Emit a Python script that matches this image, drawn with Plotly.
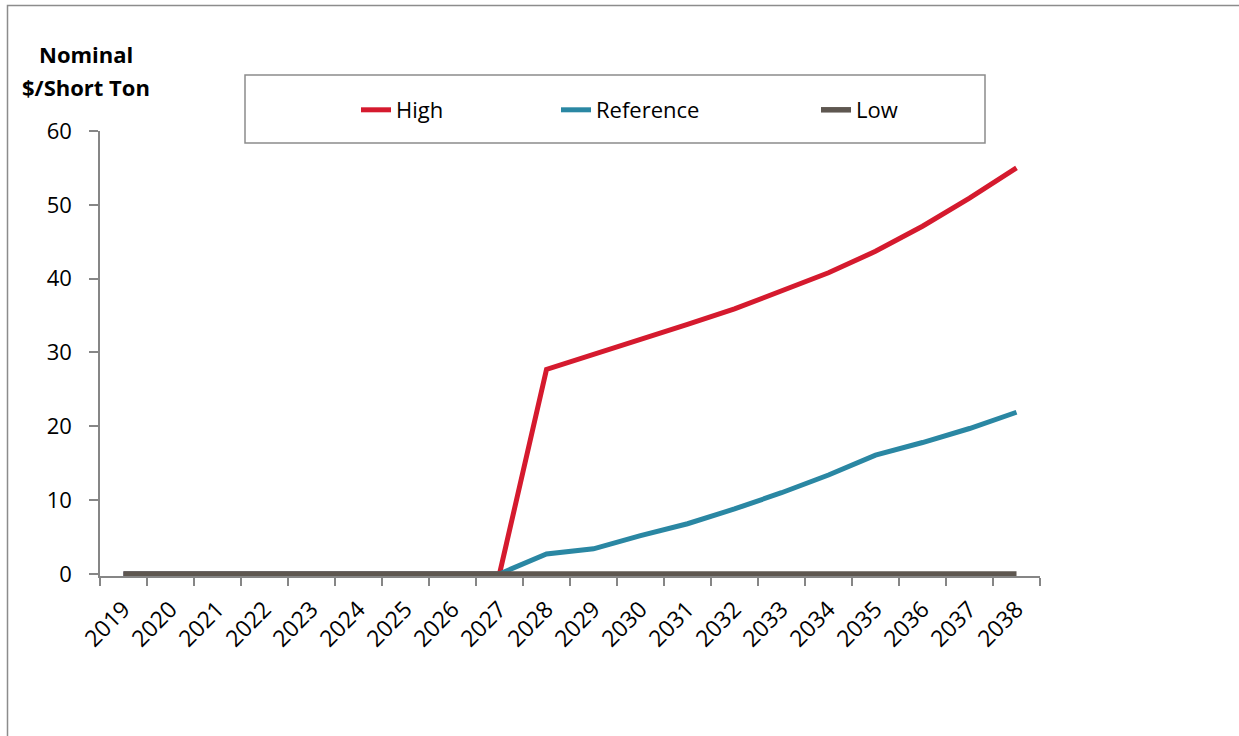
import plotly.graph_objects as go

years = [str(y) for y in range(2019, 2039)]
high = [0, 0, 0, 0, 0, 0, 0, 0, 0, 27.7, 29.7, 31.7, 33.8, 35.9, 38.3, 40.8, 43.7, 47.1, 50.9, 55.0]
reference = [0, 0, 0, 0, 0, 0, 0, 0, 0, 2.7, 3.4, 5.2, 6.8, 8.8, 11.0, 13.4, 16.1, 17.8, 19.7, 21.9]
low = [0] * 20
y_ticks = [0, 10, 20, 30, 40, 50, 60]

W, H = 1239, 736
L, R, T, B = 100, 1040, 131, 576


def px(x):
    return (x - L) / (R - L)


def py(y):
    return (B - y) / (B - T)


FONT = "Open Sans"
AX = "#868686"

fig = go.Figure()
fig.add_trace(go.Scatter(x=years, y=high, mode="lines", name="High",
                         line=dict(color="#D51A2E", width=5), legend="legend"))
fig.add_trace(go.Scatter(x=years, y=reference, mode="lines", name="Reference",
                         line=dict(color="#2A87A3", width=5), legend="legend2"))
fig.add_trace(go.Scatter(x=years, y=low, mode="lines", name="Low",
                         line=dict(color="#5E5750", width=5.5), legend="legend3"))

leg_common = dict(orientation="h", yanchor="middle", xanchor="left", bgcolor="rgba(0,0,0,0)",
                  borderwidth=0, font=dict(family=FONT, size=22, color="black"))

fig.update_layout(
    width=W, height=H,
    showlegend=True,
    margin=dict(l=L, r=W - R, t=T, b=H - B, autoexpand=False),
    paper_bgcolor="white", plot_bgcolor="white",
    font=dict(family=FONT, size=22, color="black"),
    legend=dict(x=px(400 - 44), y=py(110), **leg_common),
    legend2=dict(x=px(600 - 44), y=py(110), **leg_common),
    legend3=dict(x=px(860 - 44), y=py(110), **leg_common),
    xaxis=dict(type="category", categoryorder="array", categoryarray=years,
               range=[-0.5, 19.5], showline=True, linecolor=AX, linewidth=1.5,
               ticks="outside", ticklen=8, tickcolor=AX, tickwidth=1.5,
               tickson="boundaries", tickangle=-45, showgrid=False, zeroline=False,
               layer="below traces", ticklabelstandoff=9,
               tickfont=dict(family=FONT, size=23, color="black")),
    yaxis=dict(range=[-0.28, 60], tickvals=y_ticks, showline=True, linecolor=AX, linewidth=1.5,
               ticks="outside", ticklen=9, tickcolor=AX, tickwidth=1.5,
               showgrid=False, zeroline=False, layer="below traces", ticklabelstandoff=13,
               tickfont=dict(family=FONT, size=22, color="black")),
    shapes=[
        dict(type="rect", xref="paper", yref="paper", x0=px(245), x1=px(985), y0=py(143), y1=py(75),
             line=dict(color="#8C8C8C", width=1.5), fillcolor="rgba(0,0,0,0)", layer="below"),
        dict(type="path", xref="paper", yref="paper",
             path=f"M {px(7.5)} {py(740)} L {px(7.5)} {py(5.5)} L {px(1240)} {py(5.5)}",
             line=dict(color="#8C8C8C", width=1.5)),
    ],
    annotations=[
        dict(text="<b>Nominal</b>", xref="paper", yref="paper", x=px(86), y=py(54),
             xanchor="center", yanchor="middle", showarrow=False,
             font=dict(family=FONT, size=22, color="black")),
        dict(text="<b>$/Short Ton</b>", xref="paper", yref="paper", x=px(86), y=py(87),
             xanchor="center", yanchor="middle", showarrow=False,
             font=dict(family=FONT, size=22, color="black")),
    ],
)

fig.write_html("out.html")
